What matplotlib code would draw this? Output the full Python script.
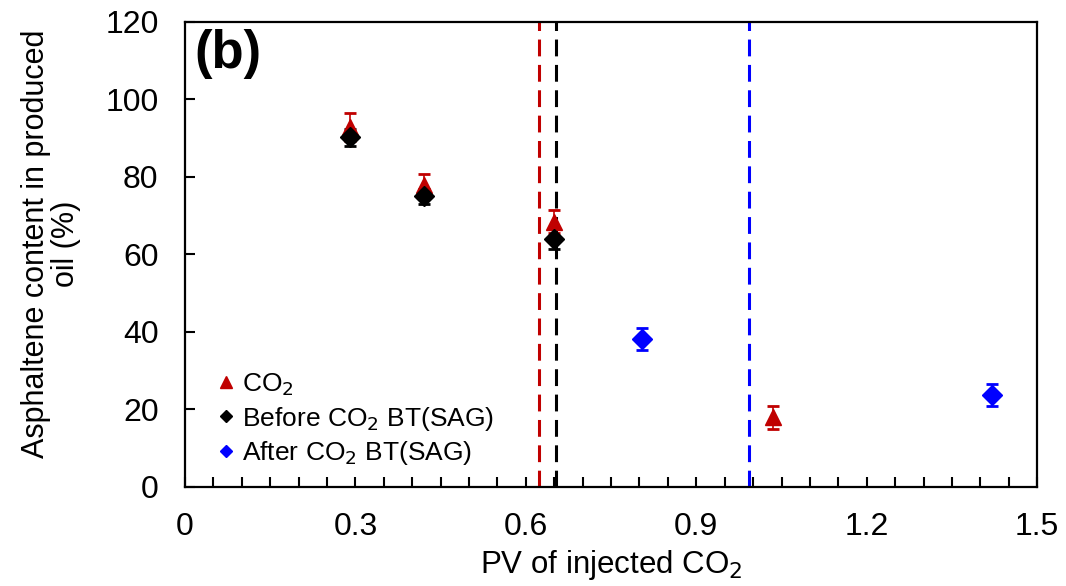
import matplotlib
matplotlib.use("Agg")
import matplotlib.pyplot as plt
from matplotlib.ticker import MultipleLocator, FuncFormatter
from matplotlib.lines import Line2D

plt.rcParams['font.family'] = ['Liberation Sans', 'DejaVu Sans']

# Data
co2_x = [0.29, 0.42, 0.65, 1.035]
co2_y = [93.0, 78.0, 68.5, 18.0]
co2_err = [3.6, 2.8, 3.0, 3.0]

before_x = [0.29, 0.42, 0.65]
before_y = [90.2, 75.0, 64.0]
before_err = [2.3, 2.0, 2.6]

after_x = [0.805, 1.42]
after_y = [38.2, 23.8]
after_err = [2.8, 2.9]

bt_lines = [0.623, 0.653, 0.993]
bt_colors = ['#C00000', 'black', '#0000FF']

legend_labels = ['CO$_2$', 'Before CO$_2$ BT(SAG)', 'After CO$_2$ BT(SAG)']

fig = plt.figure(figsize=(10.66, 5.86), dpi=100)
ax = fig.add_axes([0.1735, 0.169, 0.7995, 0.7935])

for xv, c in zip(bt_lines, bt_colors):
    ax.axvline(xv, color=c, lw=2.2, dashes=(5.5, 2.8), zorder=1)

ekw = dict(ls='none', capsize=4.5, elinewidth=1.2, capthick=2.0, zorder=3)
ax.errorbar(co2_x, co2_y, yerr=co2_err, color='#C00000', marker='^', ms=11, **ekw)
ax.errorbar(before_x, before_y, yerr=before_err, color='black', marker='D', ms=10, **ekw)
ax.errorbar(after_x, after_y, yerr=after_err, color='#0000FF', marker='D', ms=10, **ekw)

ax.set_xlim(0, 1.5)
ax.set_ylim(0, 120)
ax.xaxis.set_major_locator(MultipleLocator(0.3))
ax.xaxis.set_minor_locator(MultipleLocator(0.05))
ax.yaxis.set_major_locator(MultipleLocator(20))
ax.xaxis.set_major_formatter(FuncFormatter(lambda v, p: '0' if abs(v) < 1e-9 else f'{v:.1f}'))
ax.tick_params(axis='both', which='both', direction='in', width=1.5, labelsize=23)
ax.tick_params(axis='x', which='major', length=7, pad=18)
ax.tick_params(axis='x', which='minor', length=7)
ax.tick_params(axis='y', which='major', length=7, pad=19)
for s in ax.spines.values():
    s.set_linewidth(1.6)

ax.set_xlabel('PV of injected CO$_2$', fontsize=22.5, labelpad=4)
ax.set_ylabel('Asphaltene content in produced\noil (%)', fontsize=22, linespacing=1.0)
ax.yaxis.set_label_coords(-0.122, 0.523)

ax.text(0.011, 0.985, '(b)', transform=ax.transAxes, fontsize=38, fontweight='bold',
        va='top', ha='left')

handles = [Line2D([], [], color='#C00000', marker='^', ls='none', ms=8),
           Line2D([], [], color='black', marker='D', ls='none', ms=6),
           Line2D([], [], color='#0000FF', marker='D', ls='none', ms=6)]
ax.legend(handles, legend_labels, loc='lower left', bbox_to_anchor=(0.027, 0.02),
          frameon=False, fontsize=19, handlelength=0.6, handletextpad=0.3,
          labelspacing=0.25, borderaxespad=0)

fig.savefig('out.png', dpi=100)
